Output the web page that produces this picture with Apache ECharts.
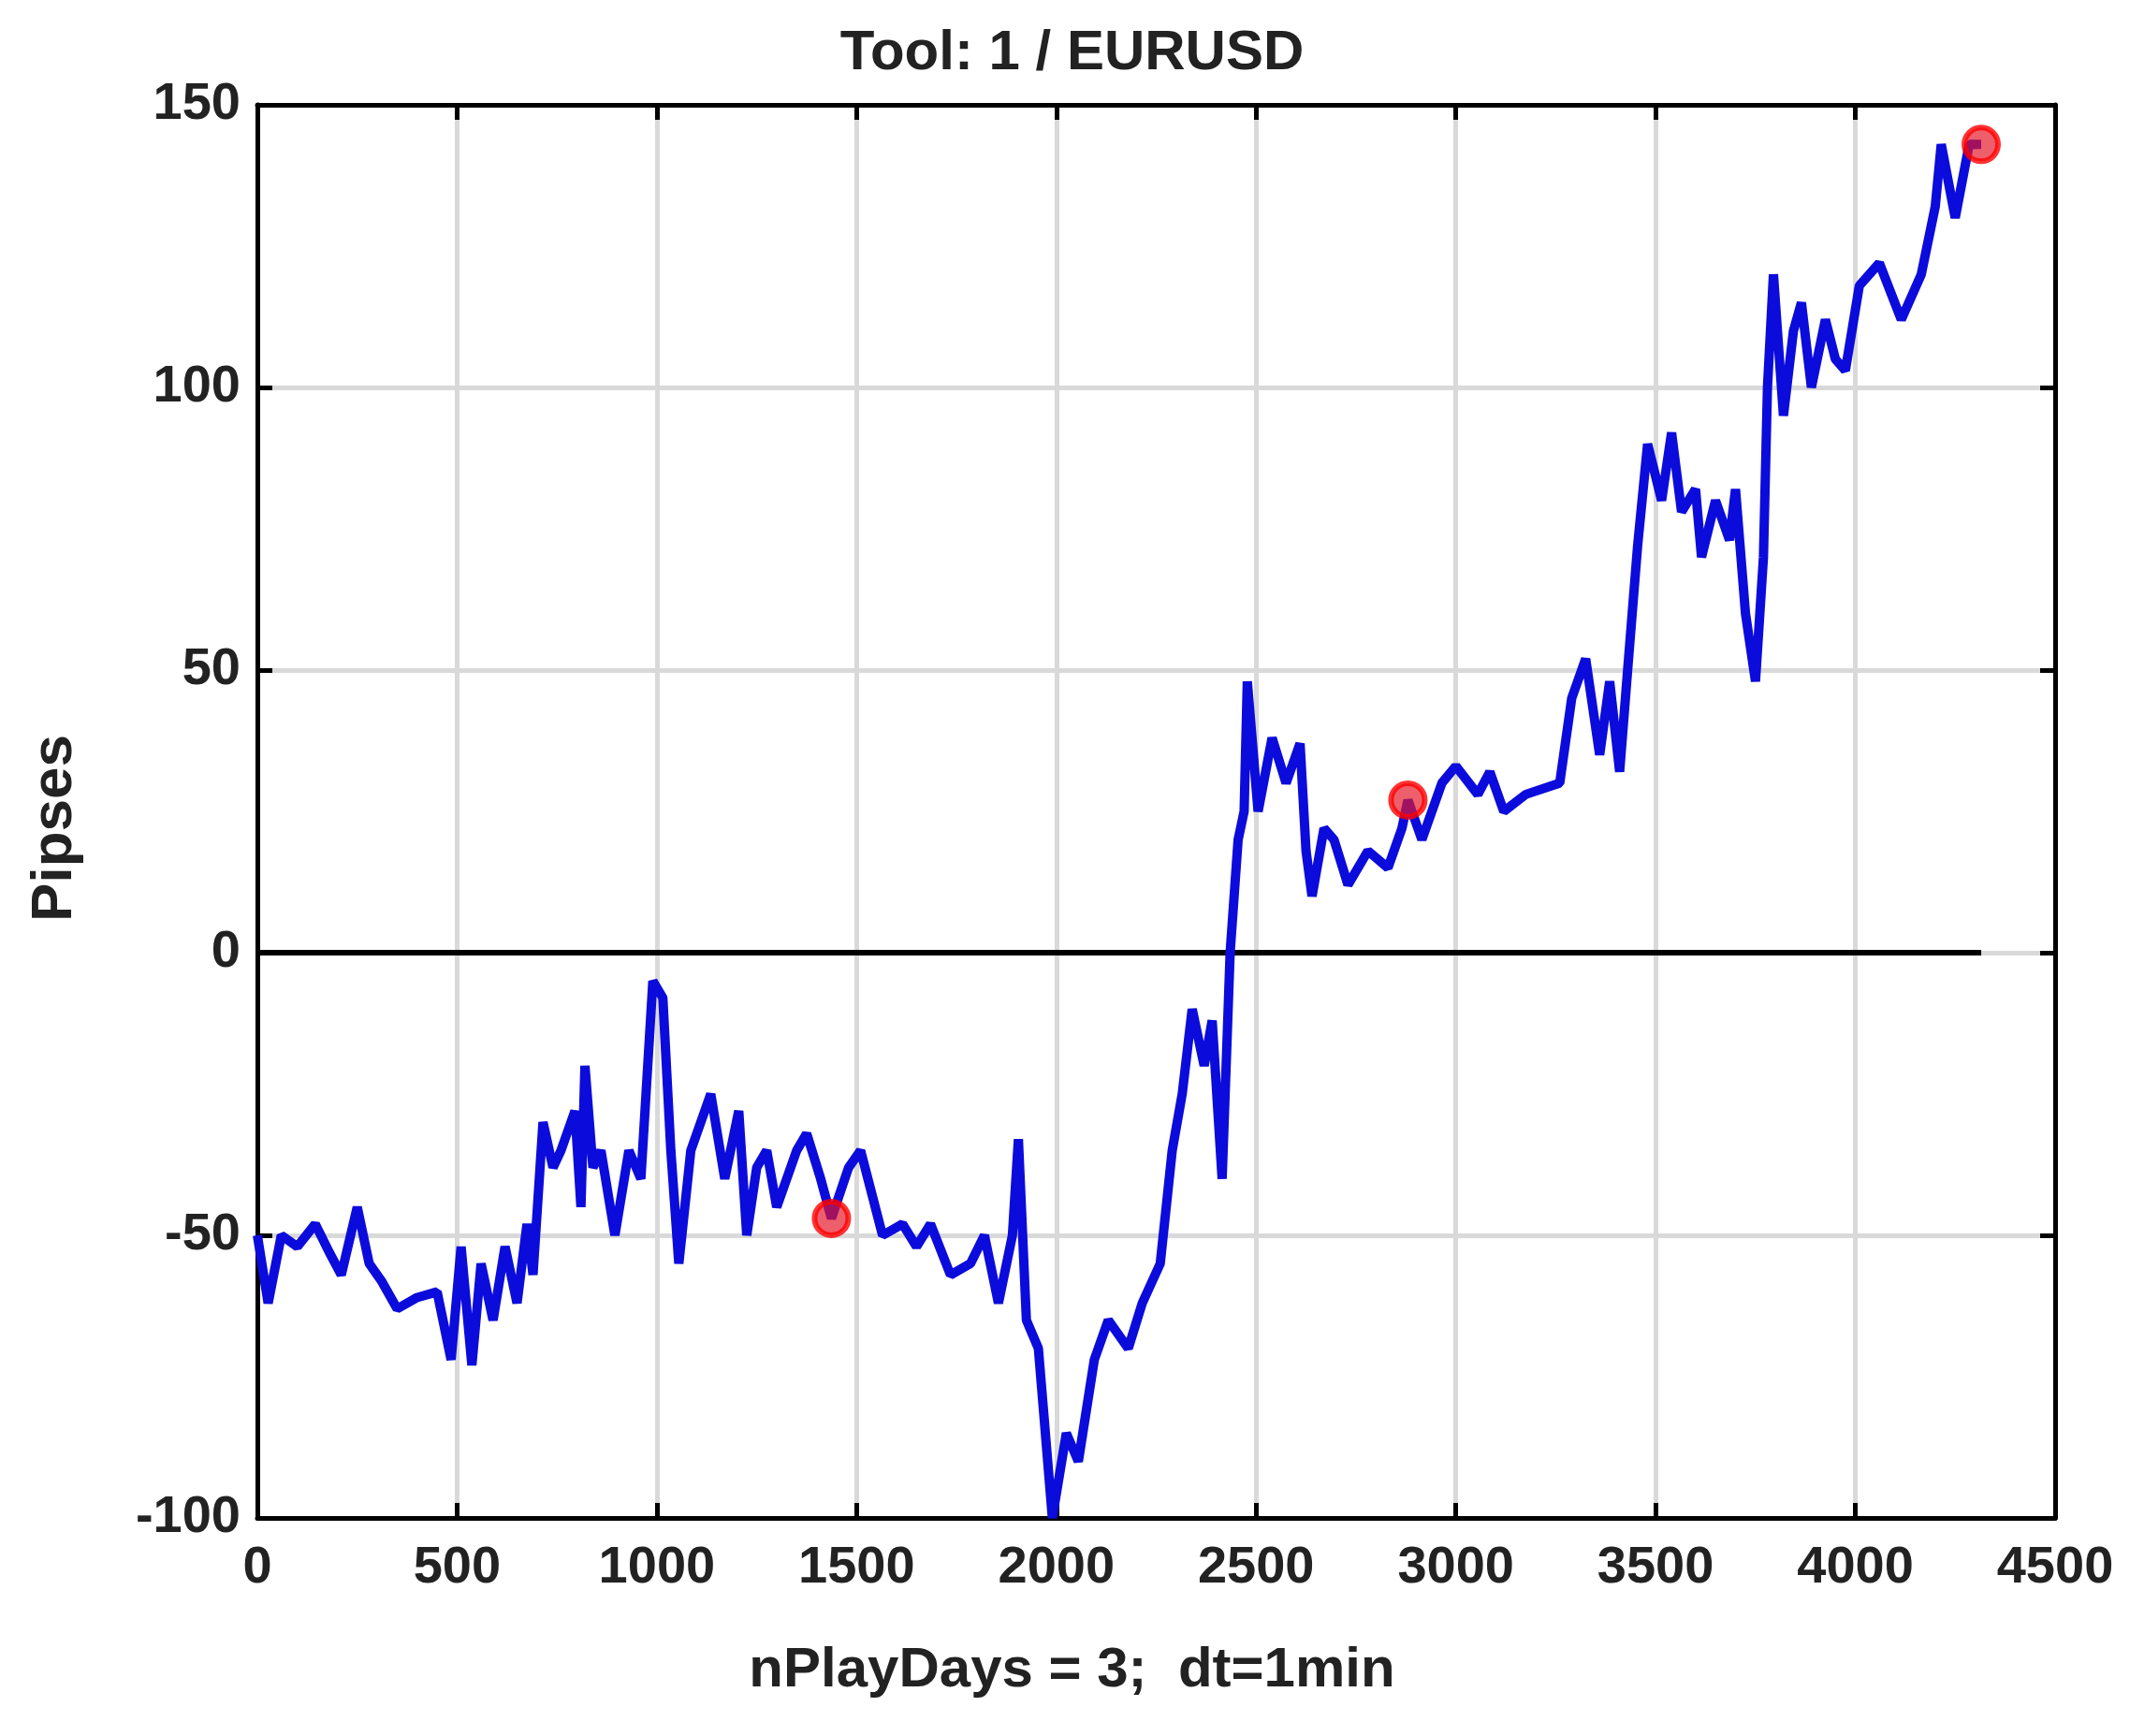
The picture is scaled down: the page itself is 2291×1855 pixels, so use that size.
<!DOCTYPE html>
<html><head><meta charset="utf-8">
<script src="https://cdn.jsdelivr.net/npm/echarts@6/dist/echarts.min.js"></script>
<style>html,body{margin:0;background:#fff}#c{width:2291px;height:1855px}</style>
</head><body><div id="c"></div>
<script>
var xs = [0,27,60,100,145,180,210,250,280,310,350,400,450,485,510,537,560,590,620,650,675,690,715,740,760,795,810,820,840,860,895,930,960,990,1015,1035,1055,1085,1110,1135,1170,1205,1225,1250,1275,1300,1325,1350,1375,1410,1437,1480,1510,1565,1615,1650,1685,1735,1785,1820,1855,1890,1905,1925,1955,1990,2025,2055,2095,2130,2180,2215,2260,2290,2315,2340,2370,2390,2415,2435,2455,2470,2478,2505,2540,2575,2610,2625,2640,2670,2695,2730,2780,2830,2865,2880,2915,2965,3000,3055,3085,3120,3175,3260,3290,3325,3360,3385,3410,3430,3455,3480,3515,3540,3565,3600,3615,3650,3685,3700,3725,3750,3770,3780,3795,3820,3845,3865,3890,3925,3950,3975,4010,4060,4115,4165,4200,4215,4250,4285,4315];
var ys = [-50,-62,-50,-52,-48,-53,-57,-45,-55,-58,-63,-61,-60,-72,-52,-73,-55,-65,-52,-62,-48,-57,-30,-38,-35,-28,-45,-20,-38,-35,-50,-35,-40,-5,-8,-35,-55,-35,-30,-25,-40,-28,-50,-38,-35,-45,-40,-35,-32,-40,-47,-38,-35,-50,-48,-52,-48,-57,-55,-50,-62,-50,-33,-65,-70,-100,-85,-90,-72,-65,-70,-62,-55,-35,-25,-10,-20,-12,-40,0,20,25,48,25,38,30,37,18,10,22,20,12,18,15,22,27,20,30,33,28,32,25,28,30,45,52,35,48,32,50,72,90,80,92,78,82,70,80,73,82,60,48,70,100,120,95,110,115,100,112,105,103,118,122,112,120,132,143,130,143,143];
var markX = [1437, 2880, 4315];
var markY = [-47, 27, 143];

var FONT = '"Liberation Sans", Arial, sans-serif';
var lineData = xs.map(function (x, i) { return [x, ys[i]]; });
var marks = markX.map(function (x, i) { return [x, markY[i]]; });

var tickLbl = { color: '#222', fontSize: 56, fontWeight: 'bold', fontFamily: FONT };
var line = { show: true, onZero: false, lineStyle: { color: '#000', width: 5 } };
var tick = { show: true, inside: true, length: 16, lineStyle: { color: '#000', width: 5 } };
function plain(v) { return String(v); }
function xAx(pos, show) {
  return {
    type: 'value', position: pos, min: 0, max: 4500, interval: 500,
    axisLine: line, axisTick: tick,
    axisLabel: show ? Object.assign({ margin: 26, formatter: plain }, tickLbl) : { show: false },
    splitLine: { show: show, lineStyle: { color: '#d9d9d9', width: 5 } }
  };
}
function yAx(pos, show) {
  return {
    type: 'value', position: pos, min: -100, max: 150, interval: 50,
    axisLine: line, axisTick: tick,
    axisLabel: show ? Object.assign({ margin: 18, formatter: plain }, tickLbl) : { show: false },
    splitLine: { show: show, lineStyle: { color: '#d9d9d9', width: 5 } }
  };
}

var chart = echarts.init(document.getElementById('c'));
chart.setOption({
  animation: false,
  title: {
    text: 'Tool: 1 / EURUSD', left: 'center', top: 22,
    textStyle: { fontSize: 60, fontWeight: 'bold', color: '#222', fontFamily: FONT }
  },
  grid: { left: 275, right: 95, top: 112, bottom: 233 },
  xAxis: [xAx('bottom', true), xAx('top', false)],
  yAxis: [yAx('left', true), yAx('right', false)],
  graphic: [
    { type: 'text', left: 'center', top: 1755, style: { text: 'nPlayDays = 3;  dt=1min', font: 'bold 60px ' + FONT, fill: '#222' } },
    { type: 'text', left: 28, top: 785, rotation: Math.PI / 2, style: { text: 'Pipses', font: 'bold 62px ' + FONT, fill: '#222' } }
  ],
  series: [
    { type: 'line', data: [[0, 0], [4315, 0]], symbol: 'none', lineStyle: { color: '#000', width: 6 }, z: 2 },
    { type: 'line', data: lineData, symbol: 'none', lineStyle: { color: '#0b0bdc', width: 10 }, z: 3 },
    { type: 'scatter', data: marks, symbol: 'circle', symbolSize: 36, itemStyle: { color: 'rgba(230,20,40,0.85)', borderColor: '#ff0000', borderWidth: 6 }, z: 4 }
  ]
});
</script>
</body></html>
